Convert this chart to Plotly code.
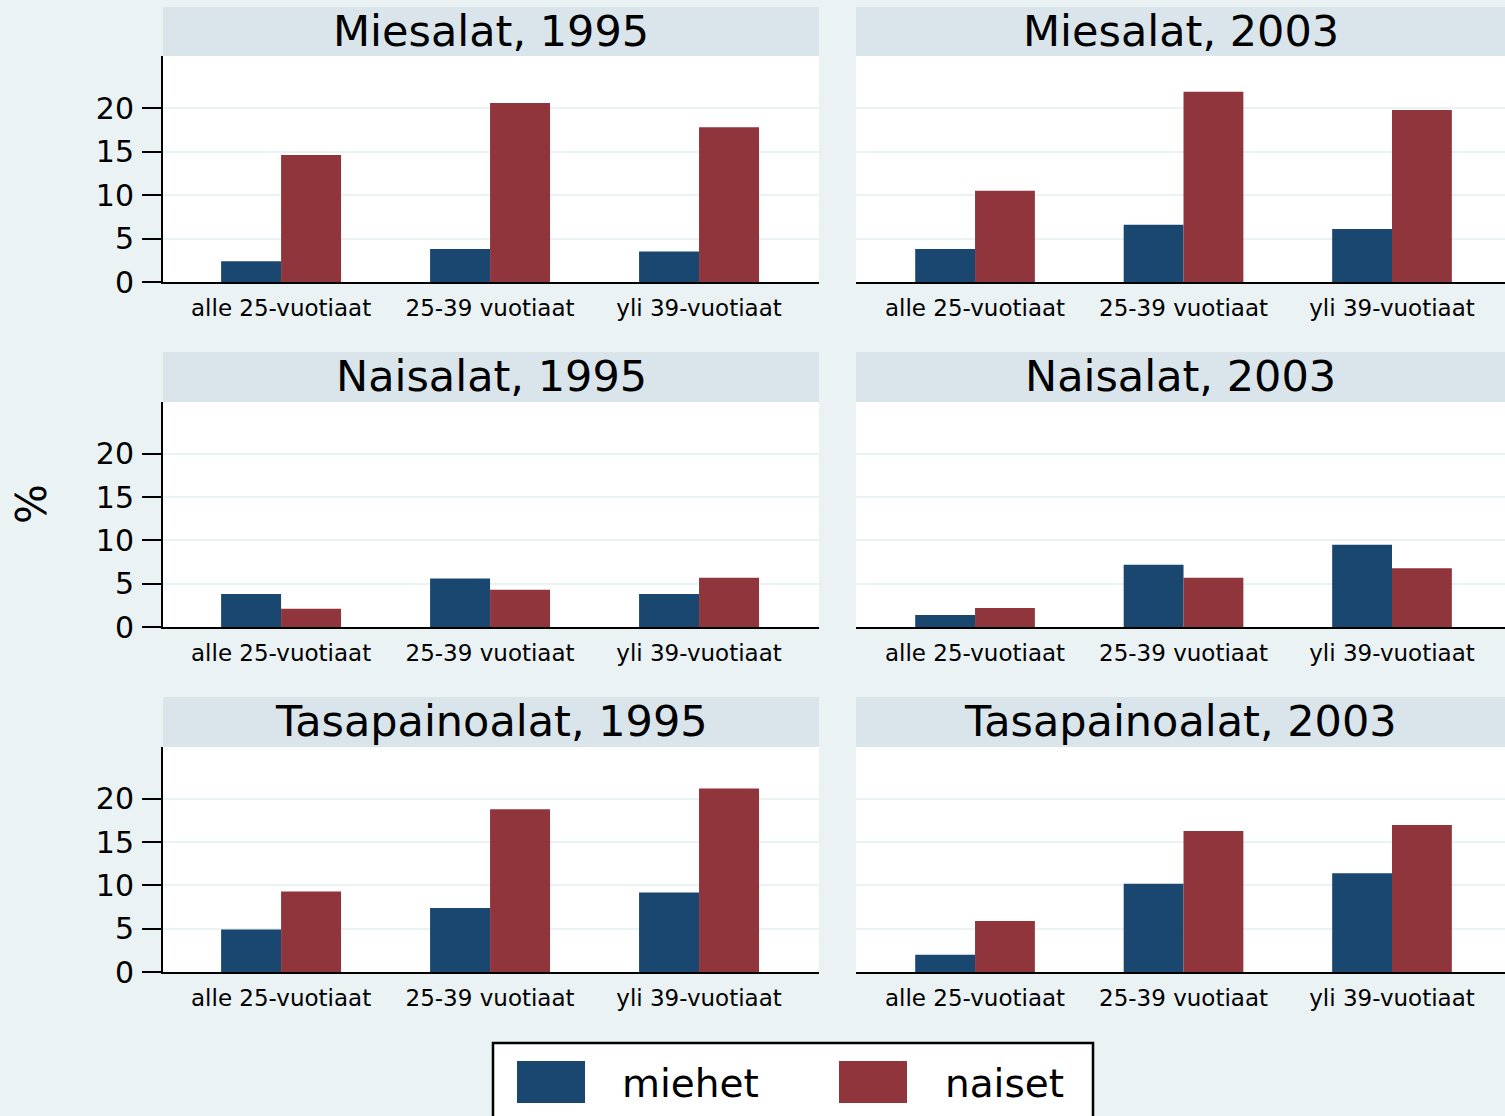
import plotly.graph_objects as go
from plotly.subplots import make_subplots

# age groups on the x axis of every panel
age_groups = ["alle 25-vuotiaat", "25-39 vuotiaat", "yli 39-vuotiaat"]

panel_titles = [
    "Miesalat, 1995", "Miesalat, 2003",
    "Naisalat, 1995", "Naisalat, 2003",
    "Tasapainoalat, 1995", "Tasapainoalat, 2003",
]

# % values read per panel (miehet = men, naiset = women)
miehet_miesalat_1995 = [2.4, 3.8, 3.5]
naiset_miesalat_1995 = [14.6, 20.6, 17.8]
miehet_miesalat_2003 = [3.8, 6.6, 6.1]
naiset_miesalat_2003 = [10.5, 21.9, 19.8]
miehet_naisalat_1995 = [3.8, 5.6, 3.8]
naiset_naisalat_1995 = [2.1, 4.3, 5.7]
miehet_naisalat_2003 = [1.4, 7.2, 9.5]
naiset_naisalat_2003 = [2.2, 5.7, 6.8]
miehet_tasapaino_1995 = [4.9, 7.4, 9.2]
naiset_tasapaino_1995 = [9.3, 18.8, 21.2]
miehet_tasapaino_2003 = [2.0, 10.2, 11.4]
naiset_tasapaino_2003 = [5.9, 16.3, 17.0]

y_ticks = [0, 5, 10, 15, 20]

W, H = 1505, 1116
NAVY = '#1a476f'
MAROON = '#90353b'
BG = '#eaf2f3'
STRIP = '#d9e5eb'
FONT = 'DejaVu Sans'

panels = [
    (miehet_miesalat_1995, naiset_miesalat_1995),
    (miehet_miesalat_2003, naiset_miesalat_2003),
    (miehet_naisalat_1995, naiset_naisalat_1995),
    (miehet_naisalat_2003, naiset_naisalat_2003),
    (miehet_tasapaino_1995, naiset_tasapaino_1995),
    (miehet_tasapaino_2003, naiset_tasapaino_2003),
]

# pixel layout of the panels (left, right) / (top, bottom)
col_px = {1: (163, 819), 2: (856, 1505)}
row_px = {1: (56, 282), 2: (402, 627), 3: (747, 972)}
strip_px = {1: (7, 56), 2: (352, 402), 3: (697, 747)}
x_ranges = {1: [-0.565, 2.574], 2: [-0.571, 2.542]}


def px_x(v):
    return v / W


def px_y(v):
    return 1 - v / H


fig = make_subplots(rows=3, cols=2)

shapes = []
annotations = []
for i, (m, n) in enumerate(panels):
    r, c = i // 2 + 1, i % 2 + 1
    fig.add_trace(go.Bar(x=age_groups, y=m, name='miehet', marker=dict(color=NAVY, line=dict(width=0)),
                         showlegend=False), row=r, col=c)
    fig.add_trace(go.Bar(x=age_groups, y=n, name='naiset', marker=dict(color=MAROON, line=dict(width=0)),
                         showlegend=False), row=r, col=c)

    x0, x1 = col_px[c]
    y0, y1 = row_px[r]
    fig.update_xaxes(domain=[px_x(x0), px_x(x1)], range=x_ranges[c], type='category',
                     showline=True, linecolor='black', linewidth=2, showgrid=False,
                     ticks='', ticklabelstandoff=4, automargin=False,
                     tickfont=dict(family=FONT, size=23, color='black'), row=r, col=c)
    fig.update_yaxes(domain=[px_y(y1), px_y(y0)], range=[0, 26], tickvals=y_ticks,
                     showgrid=True, gridcolor=BG, gridwidth=2, zeroline=False, automargin=False,
                     row=r, col=c)
    if c == 1:
        fig.update_yaxes(showline=True, linecolor='black', linewidth=2, ticks='outside',
                         ticklen=19, tickwidth=2, tickcolor='black', ticklabelstandoff=2,
                         tickfont=dict(family=FONT, size=30, color='black'), row=r, col=c)
    else:
        fig.update_yaxes(showline=False, ticks='', showticklabels=False, row=r, col=c)

    s0, s1 = strip_px[r]
    shapes.append(dict(type='rect', xref='paper', yref='paper', x0=px_x(x0), x1=px_x(x1),
                       y0=px_y(s1), y1=px_y(s0), fillcolor=STRIP, line=dict(width=0), layer='below'))
    annotations.append(dict(text=panel_titles[i], xref='paper', yref='paper',
                            x=px_x((x0 + x1) / 2), y=px_y((s0 + s1) / 2 - 1),
                            xanchor='center', yanchor='middle', showarrow=False,
                            font=dict(family=FONT, size=43, color='black')))

# y axis title
annotations.append(dict(text='%', xref='paper', yref='paper', x=px_x(31), y=px_y(504),
                        xanchor='center', yanchor='middle', textangle=-90, showarrow=False,
                        font=dict(family=FONT, size=42, color='black')))

# legend drawn by hand so the swatches can be large
shapes.append(dict(type='rect', xref='paper', yref='paper', x0=px_x(493), x1=px_x(1093),
                   y0=-0.01, y1=px_y(1043), fillcolor='white', line=dict(color='black', width=2.5)))
legend_items = [('miehet', NAVY, 517, 620), ('naiset', MAROON, 839, 943)]
for label, color, sx, tx in legend_items:
    shapes.append(dict(type='rect', xref='paper', yref='paper', x0=px_x(sx), x1=px_x(sx + 68),
                       y0=px_y(1103), y1=px_y(1061), fillcolor=color, line=dict(width=0)))
    annotations.append(dict(text=label, xref='paper', yref='paper', x=px_x(tx), y=px_y(1083),
                            xanchor='left', yanchor='middle', showarrow=False,
                            font=dict(family=FONT, size=39, color='black')))

fig.update_layout(
    width=W, height=H,
    margin=dict(l=0, r=0, t=0, b=0, autoexpand=False),
    paper_bgcolor=BG, plot_bgcolor='white',
    barmode='group', bargap=0.426, bargroupgap=0,
    shapes=shapes, annotations=annotations,
    showlegend=False,
    font=dict(family=FONT, color='black'),
)

# drop the default page margin so the figure sits at the window's corner
fig.write_html("out.html", config={'displayModeBar': False},
               post_script="document.body.style.margin='0';"
                           "document.body.style.background='%s';" % BG)
